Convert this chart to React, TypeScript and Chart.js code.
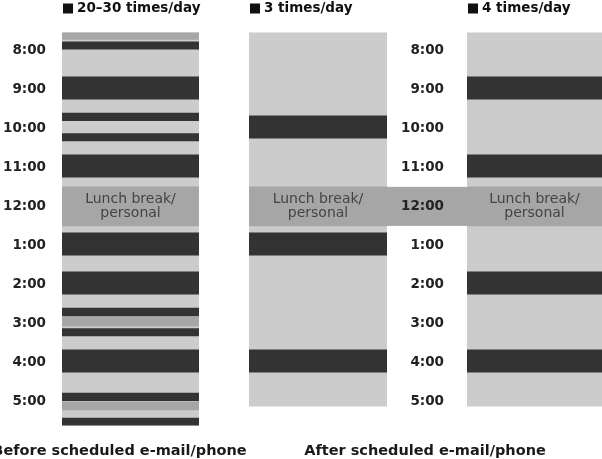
import React, { useEffect, useRef } from "react";
import { Chart, registerables } from "chart.js";

Chart.register(...registerables);

// ---------- data ----------
const HOURS = [8, 9, 10, 11, 12, 13, 14, 15, 16, 17];
const HOUR_LABELS = ["8:00", "9:00", "10:00", "11:00", "12:00", "1:00", "2:00", "3:00", "4:00", "5:00"];
const COLUMN_NAMES = ["20–30 times/day", "3 times/day", "4 times/day"];
const PANEL_CAPTIONS = ["Before scheduled e-mail/phone", "After scheduled e-mail/phone"];
const LUNCH_LABEL = ["Lunch break/", "personal"];

type Seg = [number, number];

const DAY_BEFORE: Seg = [7.56, 17.62];
const DAY_AFTER: Seg = [7.56, 17.13];
const LUNCH: Seg = [11.51, 12.51];

const BEFORE_CHECKS: Seg[] = [
  [7.79, 7.98], [8.69, 9.26], [9.62, 9.81], [10.14, 10.33], [10.69, 11.26],
  [12.69, 13.26], [13.69, 14.26], [14.62, 14.82], [15.14, 15.33], [15.69, 16.26],
  [16.8, 16.99], [17.44, 17.62],
];
const BEFORE_OTHER: Seg[] = [[7.56, 7.73], [14.85, 15.08], [17.02, 17.23]];
const AFTER3_CHECKS: Seg[] = [[9.69, 10.26], [12.69, 13.26], [15.69, 16.26]];
const AFTER4_CHECKS: Seg[] = [[8.69, 9.26], [10.69, 11.26], [13.69, 14.26], [15.69, 16.26]];

const Y_MIN = 7.5;
const Y_MAX = 17.75;

// ---------- style / layout ----------
const W = 602;
const H = 459;
const PAD_TOP = 30.5;
const PAD_BOTTOM = 28.75;
const LIGHT = "#cccccc";
const DARK = "#333333";
const MEDIUM = "#a6a6a6";
const FONT = '"DejaVu Sans", sans-serif';

interface ColumnSpec {
  name: string;
  day: Seg;
  checks: Seg[];
  other: Seg[];
  padLeft: number;
  padRight: number;
  axisWidth: number;
  tickPad: number;
  showAxis: boolean;
  caption?: string;
  captionAt?: "area" | "axis";
  captionShift?: number;
  extendLunch?: boolean;
}

const COLUMNS: ColumnSpec[] = [
  {
    name: COLUMN_NAMES[0], day: DAY_BEFORE, checks: BEFORE_CHECKS, other: BEFORE_OTHER,
    padLeft: 0, padRight: W - 199, axisWidth: 62, tickPad: 16, showAxis: true,
    caption: PANEL_CAPTIONS[0], captionAt: "area", captionShift: -11,
  },
  {
    name: COLUMN_NAMES[1], day: DAY_AFTER, checks: AFTER3_CHECKS, other: [],
    padLeft: 249, padRight: W - 387, axisWidth: 0, tickPad: 0, showAxis: false,
  },
  {
    name: COLUMN_NAMES[2], day: DAY_AFTER, checks: AFTER4_CHECKS, other: [],
    padLeft: 387, padRight: 0, axisWidth: 80, tickPad: 23, showAxis: true,
    caption: PANEL_CAPTIONS[1], captionAt: "axis", captionShift: -2, extendLunch: true,
  },
];

const columnText = {
  id: "columnText",
  beforeDraw(chart: any, _a: any, opts: any) {
    if (!opts.extendLunch) return;
    const { ctx, scales } = chart;
    const y = scales.y;
    const t = y.getPixelForValue(LUNCH[0]);
    const b = y.getPixelForValue(LUNCH[1]);
    ctx.save();
    ctx.fillStyle = MEDIUM;
    ctx.fillRect(y.left, t, y.right - y.left, b - t);
    ctx.restore();
  },
  afterDatasetsDraw(chart: any, _a: any, opts: any) {
    const { ctx, chartArea: a, scales } = chart;
    const y = scales.y;
    const xc = (a.left + a.right) / 2;
    const yc = (y.getPixelForValue(LUNCH[0]) + y.getPixelForValue(LUNCH[1])) / 2;
    ctx.save();
    // lunch label
    ctx.font = `14px ${FONT}`;
    ctx.fillStyle = "#444444";
    ctx.textAlign = "center";
    ctx.textBaseline = "middle";
    ctx.fillText(LUNCH_LABEL[0], xc, yc - 7.5);
    ctx.fillText(LUNCH_LABEL[1], xc, yc + 7);
    // header (legend-like)
    ctx.fillStyle = "#111111";
    ctx.fillRect(a.left + 1, a.top - 27, 10, 10);
    ctx.font = `bold 13.5px ${FONT}`;
    ctx.textAlign = "left";
    ctx.fillText(opts.name, a.left + 15, a.top - 22);
    // caption
    if (opts.caption) {
      const cx =
        opts.captionAt === "axis" ? (y.left + y.right) / 2 : (a.left + a.right) / 2;
      ctx.font = `bold 14.5px ${FONT}`;
      ctx.fillStyle = "#1a1a1a";
      ctx.textAlign = "center";
      ctx.textBaseline = "alphabetic";
      ctx.fillText(opts.caption, cx + (opts.captionShift || 0), a.bottom + 24.5);
    }
    ctx.restore();
  },
};

function seg(s: Seg, color: string, label: string, order: number) {
  return {
    label,
    data: [s],
    backgroundColor: color,
    borderWidth: 0,
    grouped: false,
    barPercentage: 1,
    categoryPercentage: 1,
    order,
  };
}

function ScheduleColumn({ spec }: { spec: ColumnSpec }) {
  const ref = useRef<HTMLCanvasElement | null>(null);
  useEffect(() => {
    if (!ref.current) return;
    const chart = new Chart(ref.current, {
      type: "bar",
      data: {
        labels: [spec.name],
        datasets: [
          ...spec.checks.map((s) => seg(s, DARK, spec.name, 1)),
          ...spec.other.map((s) => seg(s, MEDIUM, "Other", 2)),
          seg(LUNCH, MEDIUM, "Lunch", 2),
          seg(spec.day, LIGHT, "Day", 3),
        ] as any,
      },
      plugins: [columnText as any],
      options: {
        responsive: false,
        animation: false,
        events: [],
        layout: {
          autoPadding: false,
          padding: { top: PAD_TOP, bottom: PAD_BOTTOM, left: spec.padLeft, right: spec.padRight },
        },
        plugins: {
          legend: { display: false },
          tooltip: { enabled: false },
          columnText: {
            name: spec.name,
            caption: spec.caption,
            captionAt: spec.captionAt,
            captionShift: spec.captionShift,
            extendLunch: spec.extendLunch,
          },
        } as any,
        scales: {
          x: { type: "category", display: false, offset: true },
          y: {
            type: "linear",
            min: Y_MIN,
            max: Y_MAX,
            reverse: true,
            display: spec.showAxis,
            grid: { display: false, drawTicks: false, tickLength: 0 },
            border: { display: false },
            afterBuildTicks: (s: any) => {
              s.ticks = HOURS.map((v) => ({ value: v }));
            },
            afterFit: (s: any) => {
              s.width = spec.axisWidth;
              s.paddingTop = 0;
              s.paddingBottom = 0;
            },
            ticks: {
              autoSkip: false,
              padding: spec.tickPad,
              color: "#222222",
              font: { family: FONT, size: 13.5, weight: "bold" },
              callback: (v: any) => {
                const i = HOURS.indexOf(Number(v));
                return i >= 0 ? HOUR_LABELS[i] : "";
              },
            },
          },
        },
      } as any,
    });
    return () => chart.destroy();
  }, [spec]);
  return (
    <canvas
      ref={ref}
      width={W}
      height={H}
      style={{ position: "absolute", left: 0, top: 0, width: W, height: H }}
    />
  );
}

export default function App() {
  useEffect(() => {
    document.body.style.margin = "0";
    document.body.style.background = "#ffffff";
  }, []);
  return (
    <div style={{ position: "relative", width: W, height: H, overflow: "hidden", background: "#fff" }}>
      {COLUMNS.map((c) => (
        <ScheduleColumn key={c.name} spec={c} />
      ))}
    </div>
  );
}
